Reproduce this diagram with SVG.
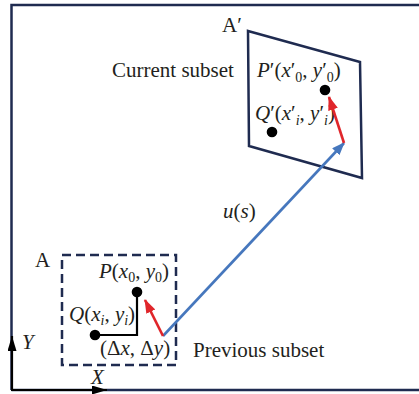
<svg xmlns="http://www.w3.org/2000/svg" width="419" height="394" viewBox="0 0 419 394">
<style>
.t{font-family:'Liberation Serif','DejaVu Serif',serif;font-size:21px;fill:#231f20}
.i{font-style:italic}
.s{font-size:14px}
.navy{fill:none;stroke:#1f2b50;stroke-width:2.5}
.red{stroke:#e0262b;stroke-width:2.6;fill:none}
.blue{stroke:#4677bd;stroke-width:2.6;fill:none}
.blk{stroke:#000;stroke-width:2.2;fill:none}
.dot{fill:#000}
</style>
<defs>
<marker id="ar" markerUnits="userSpaceOnUse" markerWidth="15" markerHeight="12" refX="13" refY="5" orient="auto"><path d="M0,0 L14,5 L0,10 Z" fill="#e0262b"/></marker>
<marker id="ab" markerUnits="userSpaceOnUse" markerWidth="14" markerHeight="12" refX="12" refY="5" orient="auto"><path d="M0,0 L13,5 L0,10 Z" fill="#4677bd"/></marker>
<marker id="ak" markerUnits="userSpaceOnUse" markerWidth="16" markerHeight="12" refX="15" refY="4.5" orient="auto"><path d="M0,0 L15,4.5 L0,9 Z" fill="#000"/></marker>
</defs>
<g id="frame">
<path class="navy" d="M11.5,390 V5 H419 M11.5,390 H419"/>
</g>
<g id="axes">
<path class="blk" d="M12,390 V336" marker-end="url(#ak)"/>
<path class="blk" d="M11,390 H107" marker-end="url(#ak)"/>
<text class="t i" x="22" y="349">Y</text>
<text class="t i" x="91" y="384">X</text>
</g>
<g id="subset-A">
<rect x="62" y="255" width="114" height="110" class="navy" stroke-dasharray="9 5"/>
<text class="t" x="35" y="267">A</text>
<path class="blk" d="M95,335 H137 V292"/>
<circle class="dot" cx="137" cy="292" r="5.3"/>
<circle class="dot" cx="95" cy="335" r="5.3"/>
<text class="t" x="99" y="278"><tspan class="i">P</tspan>(<tspan class="i">x</tspan><tspan class="s" dy="4">0</tspan><tspan dy="-4">, </tspan><tspan class="i">y</tspan><tspan class="s" dy="4">0</tspan><tspan dy="-4">)</tspan></text>
<text class="t" x="69" y="321"><tspan class="i">Q</tspan>(<tspan class="i">x</tspan><tspan class="s i" dy="4">i</tspan><tspan dy="-4">, </tspan><tspan class="i">y</tspan><tspan class="s i" dy="4">i</tspan><tspan dy="-4">)</tspan></text>
<text class="t" x="100" y="355">(Δ<tspan class="i">x</tspan>, Δ<tspan class="i">y</tspan>)</text>
<text class="t" x="193" y="357">Previous subset</text>
</g>
<g id="subset-A-prime">
<path class="navy" d="M248,31 L360,62 L362,178 L249,146 Z"/>
<text class="t" x="222" y="32">A′</text>
<text class="t" x="112" y="77">Current subset</text>
<circle class="dot" cx="325" cy="90" r="5.3"/>
<circle class="dot" cx="272" cy="132" r="5.3"/>
<text class="t" x="257" y="77"><tspan class="i">P</tspan>′(<tspan class="i">x</tspan>′<tspan class="s" dy="5">0</tspan><tspan dy="-5">, </tspan><tspan class="i">y</tspan>′<tspan class="s" dy="5">0</tspan><tspan dy="-5">)</tspan></text>
<text class="t" x="255" y="120"><tspan class="i">Q</tspan>′(<tspan class="i">x</tspan>′<tspan class="s i" dy="5">i</tspan><tspan dy="-5">, </tspan><tspan class="i">y</tspan>′<tspan class="s i" dy="5">i</tspan><tspan dy="-5">)</tspan></text>
</g>
<g id="connectors">
<path class="blue" d="M163,336 L344,143" marker-end="url(#ab)"/>
<path class="red" d="M163,336 L145,300" marker-end="url(#ar)"/>
<path class="red" d="M344,143 L329,97" marker-end="url(#ar)"/>
<text class="t i" x="223" y="218">u<tspan font-style="normal">(</tspan>s<tspan font-style="normal">)</tspan></text>
</g>
</svg>
